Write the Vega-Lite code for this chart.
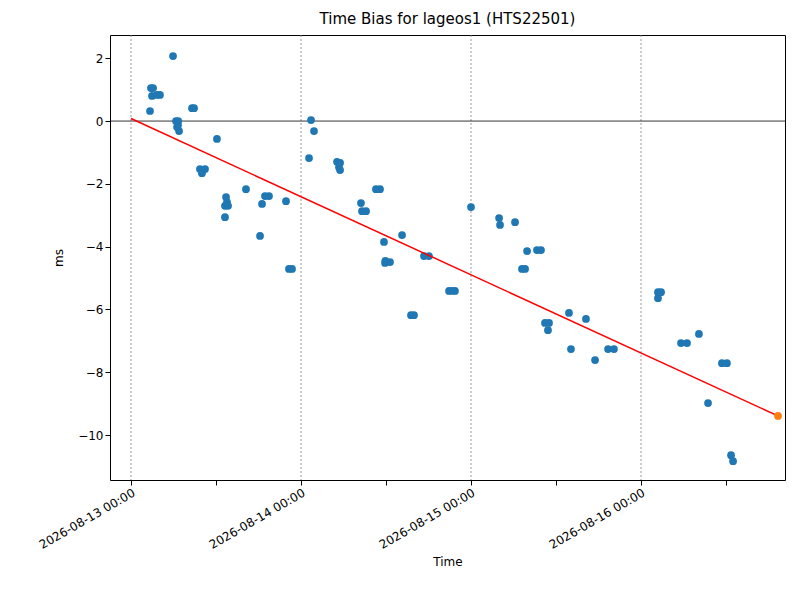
{
  "$schema": "https://vega.github.io/schema/vega-lite/v6.json",
  "autosize": {"type": "none"},
  "width": 675,
  "height": 445,
  "padding": {"left": 110, "top": 35, "right": 15, "bottom": 120},
  "background": "white",
  "title": {"text": "Time Bias for lageos1 (HTS22501)", "fontSize": 15, "fontWeight": "normal", "font": "DejaVu Sans", "offset": 8, "color": "black"},
  "config": {
    "font": "DejaVu Sans",
    "view": {"stroke": "black", "strokeWidth": 1},
    "axis": {"labelFontSize": 12, "titleFontSize": 12, "titleFontWeight": "normal", "labelColor": "black", "titleColor": "black", "domain": false, "tickColor": "black", "grid": false}
  },
  "datasets": {
    "pts": [
      {"t": "2026-08-13T02:41:00Z", "v": 0.32}, {"t": "2026-08-13T02:49:00Z", "v": 1.05}, {"t": "2026-08-13T03:07:00Z", "v": 1.05},
      {"t": "2026-08-13T02:58:00Z", "v": 0.8}, {"t": "2026-08-13T03:40:00Z", "v": 0.83}, {"t": "2026-08-13T04:05:00Z", "v": 0.83},
      {"t": "2026-08-13T05:56:00Z", "v": 2.07}, {"t": "2026-08-13T06:21:00Z", "v": 0.0}, {"t": "2026-08-13T06:38:00Z", "v": -0.13},
      {"t": "2026-08-13T06:47:00Z", "v": -0.32}, {"t": "2026-08-13T06:30:00Z", "v": -0.19}, {"t": "2026-08-13T06:40:00Z", "v": 0.0},
      {"t": "2026-08-13T08:37:00Z", "v": 0.41}, {"t": "2026-08-13T08:54:00Z", "v": 0.41},
      {"t": "2026-08-13T09:44:00Z", "v": -1.53}, {"t": "2026-08-13T10:01:00Z", "v": -1.66}, {"t": "2026-08-13T10:27:00Z", "v": -1.53},
      {"t": "2026-08-13T12:08:00Z", "v": -0.57},
      {"t": "2026-08-13T13:16:00Z", "v": -2.7}, {"t": "2026-08-13T13:25:00Z", "v": -2.42}, {"t": "2026-08-13T13:33:00Z", "v": -2.58},
      {"t": "2026-08-13T13:16:00Z", "v": -3.06}, {"t": "2026-08-13T13:42:00Z", "v": -2.7},
      {"t": "2026-08-13T16:14:00Z", "v": -2.17},
      {"t": "2026-08-13T18:13:00Z", "v": -3.66}, {"t": "2026-08-13T18:30:00Z", "v": -2.64}, {"t": "2026-08-13T18:55:00Z", "v": -2.39},
      {"t": "2026-08-13T19:29:00Z", "v": -2.39},
      {"t": "2026-08-13T21:53:00Z", "v": -2.55},
      {"t": "2026-08-13T22:18:00Z", "v": -4.71}, {"t": "2026-08-13T22:44:00Z", "v": -4.71},
      {"t": "2026-08-14T01:08:00Z", "v": -1.18}, {"t": "2026-08-14T01:25:00Z", "v": 0.03}, {"t": "2026-08-14T01:50:00Z", "v": -0.32},
      {"t": "2026-08-14T05:05:00Z", "v": -1.3}, {"t": "2026-08-14T05:22:00Z", "v": -1.47}, {"t": "2026-08-14T05:31:00Z", "v": -1.56},
      {"t": "2026-08-14T05:31:00Z", "v": -1.33},
      {"t": "2026-08-14T08:28:00Z", "v": -2.61}, {"t": "2026-08-14T08:37:00Z", "v": -2.87}, {"t": "2026-08-14T09:11:00Z", "v": -2.87},
      {"t": "2026-08-14T10:35:00Z", "v": -2.17}, {"t": "2026-08-14T11:09:00Z", "v": -2.17},
      {"t": "2026-08-14T11:43:00Z", "v": -3.85}, {"t": "2026-08-14T11:52:00Z", "v": -4.52}, {"t": "2026-08-14T12:34:00Z", "v": -4.49},
      {"t": "2026-08-14T11:55:00Z", "v": -4.45},
      {"t": "2026-08-14T14:16:00Z", "v": -3.63},
      {"t": "2026-08-14T15:32:00Z", "v": -6.18}, {"t": "2026-08-14T15:57:00Z", "v": -6.18},
      {"t": "2026-08-14T17:22:00Z", "v": -4.3}, {"t": "2026-08-14T18:04:00Z", "v": -4.3},
      {"t": "2026-08-14T20:54:00Z", "v": -5.41}, {"t": "2026-08-14T21:44:00Z", "v": -5.41}, {"t": "2026-08-14T21:20:00Z", "v": -5.41},
      {"t": "2026-08-15T00:00:00Z", "v": -2.74},
      {"t": "2026-08-15T03:58:00Z", "v": -3.09}, {"t": "2026-08-15T04:06:00Z", "v": -3.31},
      {"t": "2026-08-15T06:13:00Z", "v": -3.22},
      {"t": "2026-08-15T07:12:00Z", "v": -4.71}, {"t": "2026-08-15T07:38:00Z", "v": -4.71},
      {"t": "2026-08-15T07:55:00Z", "v": -4.14},
      {"t": "2026-08-15T09:19:00Z", "v": -4.11}, {"t": "2026-08-15T09:53:00Z", "v": -4.11},
      {"t": "2026-08-15T10:27:00Z", "v": -6.43}, {"t": "2026-08-15T11:01:00Z", "v": -6.43}, {"t": "2026-08-15T10:52:00Z", "v": -6.66},
      {"t": "2026-08-15T13:50:00Z", "v": -6.11}, {"t": "2026-08-15T14:07:00Z", "v": -7.26},
      {"t": "2026-08-15T16:14:00Z", "v": -6.3},
      {"t": "2026-08-15T17:31:00Z", "v": -7.61},
      {"t": "2026-08-15T19:21:00Z", "v": -7.26}, {"t": "2026-08-15T20:11:00Z", "v": -7.26},
      {"t": "2026-08-16T02:24:00Z", "v": -5.45}, {"t": "2026-08-16T02:50:00Z", "v": -5.45}, {"t": "2026-08-16T02:24:00Z", "v": -5.64},
      {"t": "2026-08-16T05:39:00Z", "v": -7.07}, {"t": "2026-08-16T06:30:00Z", "v": -7.07},
      {"t": "2026-08-16T08:11:00Z", "v": -6.78},
      {"t": "2026-08-16T09:28:00Z", "v": -8.98},
      {"t": "2026-08-16T11:26:00Z", "v": -7.71}, {"t": "2026-08-16T12:08:00Z", "v": -7.71},
      {"t": "2026-08-16T12:43:00Z", "v": -10.64}, {"t": "2026-08-16T13:00:00Z", "v": -10.83}
    ],
    "fit": [{"t": "2026-08-13T00:00:00Z", "v": 0.08}, {"t": "2026-08-16T19:21:00Z", "v": -9.39}],
    "days": [{"t": "2026-08-13T00:00:00Z"}, {"t": "2026-08-14T00:00:00Z"}, {"t": "2026-08-15T00:00:00Z"}, {"t": "2026-08-16T00:00:00Z"}]
  },
  "encoding": {
    "x": {
      "field": "t", "type": "temporal", "title": "Time",
      "scale": {"type": "utc", "domain": ["2026-08-12T21:02:00Z", "2026-08-16T20:20:00Z"]},
      "axis": {
        "values": ["2026-08-13T00:00:00Z", "2026-08-13T12:00:00Z", "2026-08-14T00:00:00Z", "2026-08-14T12:00:00Z", "2026-08-15T00:00:00Z", "2026-08-15T12:00:00Z", "2026-08-16T00:00:00Z", "2026-08-16T12:00:00Z"],
        "labelExpr": "utcFormat(datum.value, '%Y-%m-%d %H:%M')", "labelAngle": -30, "labelAlign": "right", "labelBaseline": "top", "titlePadding": 6
      }
    },
    "y": {
      "field": "v", "type": "quantitative", "title": "ms",
      "scale": {"domain": [-11.43, 2.74], "nice": false, "zero": false},
      "axis": {"values": [-10, -8, -6, -4, -2, 0, 2], "titlePadding": 12}
    }
  },
  "layer": [
    {"data": {"name": "days"}, "mark": {"type": "rule", "stroke": "gray", "strokeDash": [2, 2], "strokeWidth": 0.8}, "encoding": {"y": {"value": 0}, "y2": {"value": 445}}},
    {"data": {"values": [{"z": 0}]}, "mark": {"type": "rule", "stroke": "black", "opacity": 1, "strokeWidth": 0.8}, "encoding": {"x": {"value": 0}, "x2": {"value": 675}, "y": {"field": "z", "type": "quantitative"}}},
    {"data": {"name": "pts"}, "mark": {"type": "circle", "size": 60, "color": "#1f77b4", "opacity": 1}},
    {"data": {"name": "fit"}, "mark": {"type": "line", "color": "red", "strokeWidth": 1.5}},
    {"data": {"values": [{"t": "2026-08-16T19:21:00Z", "v": -9.39}]}, "mark": {"type": "circle", "size": 60, "color": "#ff7f0e", "opacity": 1}}
  ]
}
